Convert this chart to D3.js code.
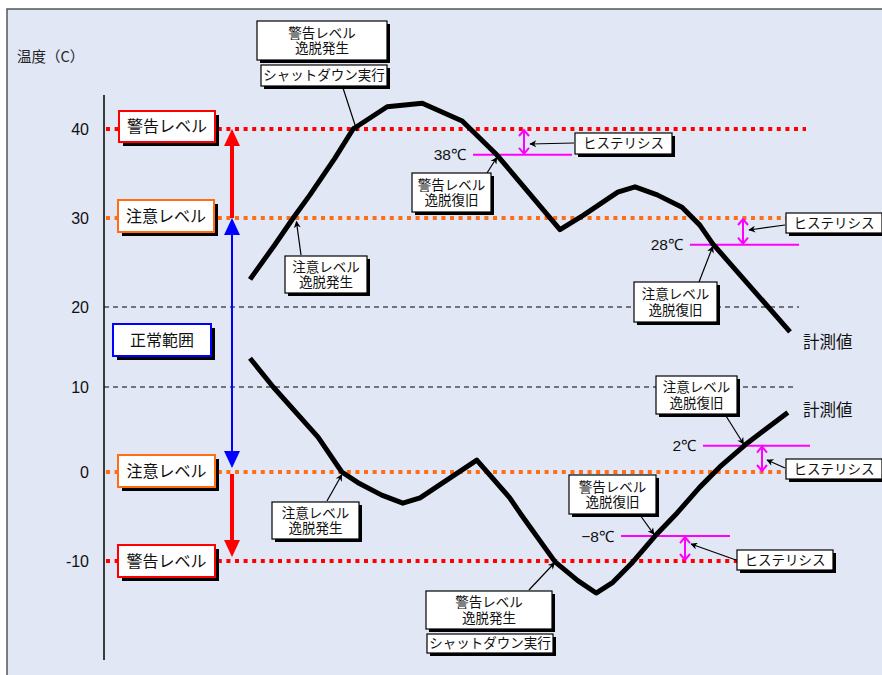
<!DOCTYPE html>
<html>
<head>
<meta charset="utf-8">
<script src="https://cdn.jsdelivr.net/npm/d3@7"></script>
<style>
  body { margin: 0; background: #fff; }
  svg text { font-family: "Noto Sans CJK JP", "Liberation Sans", sans-serif; }
</style>
</head>
<body>
<svg width="882" height="675"></svg>
<script>
// temperature axis
const tickValues = [40, 30, 20, 10, 0, -10];
const alarmLevels = [40, -10];
const cautionLevels = [30, 0];
const gridLevels = [20, 10];

// measured values (time 0..100, temperature C)
const upperTime = [0, 4.6, 8, 11.1, 15.7, 19.1, 25.4, 31.9, 39.3, 45.7, 57.4, 61.7, 68.1, 71.3, 75.4, 80, 83.3, 85.7, 88.3, 100];
const upperTemp = [23.1, 27, 30, 32.6, 36.7, 40, 42.5, 42.9, 40.9, 37.1, 28.7, 30.3, 32.9, 33.5, 32.6, 31.2, 29.2, 27.1, 25.3, 16.9];
const lowerTime = [0, 4.3, 12.6, 17, 20, 24.4, 28.3, 31.5, 42, 48.1, 50, 56.5, 60.7, 64.1, 67.2, 70.9, 75, 79.1, 83.3, 87, 91.7, 94.8, 99.6];
const lowerTemp = [13.6, 10, 4.1, 0, -1.2, -2.6, -3.5, -2.9, 1.4, -2.9, -4.6, -10.1, -12.2, -13.6, -12.4, -10.1, -7.2, -4.6, -1.7, 0.6, 3.2, 4.7, 7];

// hysteresis thresholds
const hysteresisTemps = [37.1, 27, 3.1, -7.2];
const hysteresisLabels = ['38℃', '28℃', '2℃', '−8℃'];
const hysteresisBase = [40, 30, 0, -10];

const svg = d3.select('svg');
const x = d3.scaleLinear().domain([0, 100]).range([250, 790]);
const y = d3.scaleLinear().domain([-10, 0, 10, 20, 30, 40]).range([561, 472, 387, 307, 218, 129]);

const RED = '#ff0000', ORANGE = '#ff6d14', BLUE = '#0000ff', MAG = '#ff00ff';

// panel
svg.append('rect').attr('x', 7).attr('y', 9).attr('width', 880).attr('height', 670)
  .attr('fill', '#e1e7f5').attr('stroke', '#555').attr('stroke-width', 1.5);

let defs = svg.append('defs');
defs.append('marker').attr('id', 'ah').attr('viewBox', '0 0 10 10').attr('refX', 9).attr('refY', 5)
  .attr('markerWidth', 9).attr('markerHeight', 7).attr('markerUnits', 'userSpaceOnUse').attr('orient', 'auto')
  .append('path').attr('d', 'M0,0L10,5L0,10L3,5Z').attr('fill', '#000');

svg.append('text').attr('x', 17).attr('y', 62).attr('font-size', 14.5).attr('fill', '#222').text('温度（C）');

// axis
svg.append('line').attr('x1', 104).attr('x2', 104).attr('y1', 95).attr('y2', 660)
  .attr('stroke', '#000').attr('stroke-width', 1.5);
let axis = svg.append('g').attr('transform', 'translate(104,0)')
  .call(d3.axisLeft(y).tickValues(tickValues).tickSize(0).tickPadding(15).tickFormat(d => String(d)));
axis.select('.domain').remove();
axis.selectAll('text').attr('font-size', 16).attr('fill', '#111')
  .style('font-family', '"Liberation Sans", Arial, sans-serif');

// level lines
svg.selectAll('.grid').data(gridLevels).join('line')
  .attr('x1', 104).attr('x2', d => d === 20 ? 799 : 794)
  .attr('y1', d => y(d)).attr('y2', d => y(d))
  .attr('stroke', '#000').attr('stroke-width', 1).attr('stroke-dasharray', '5,4');
svg.selectAll('.alarm').data(alarmLevels).join('line')
  .attr('x1', 106).attr('x2', 806).attr('y1', d => y(d)).attr('y2', d => y(d))
  .attr('stroke', RED).attr('stroke-width', 4).attr('stroke-dasharray', '4,4.6');
svg.selectAll('.caution').data(cautionLevels).join('line')
  .attr('x1', 106).attr('x2', 786).attr('y1', d => y(d)).attr('y2', d => y(d))
  .attr('stroke', ORANGE).attr('stroke-width', 4).attr('stroke-dasharray', '4,4.6');

function box(x0, y0, w, h, lines, opt) {
  opt = opt || {};
  let off = opt.shadow || 3;
  let g = svg.append('g');
  g.append('rect').attr('x', x0 + off).attr('y', y0 + off).attr('width', w).attr('height', h).attr('fill', '#000');
  g.append('rect').attr('x', x0).attr('y', y0).attr('width', w).attr('height', h)
    .attr('fill', '#fff').attr('stroke', opt.stroke || '#000').attr('stroke-width', opt.sw || 1.2);
  let fs = opt.fs || 13.5, lh = 15.5;
  let start = y0 + h / 2 - (lines.length - 1) * lh / 2;
  let t = g.append('text').attr('text-anchor', 'middle').attr('font-size', fs).attr('fill', '#111');
  lines.forEach((s, i) => {
    t.append('tspan').attr('x', x0 + w / 2).attr('y', start + i * lh).attr('dy', '0.36em').text(s);
  });
}

// level boxes
box(119, 111, 96, 31, ['警告レベル'], {stroke: RED, sw: 2, shadow: 4, fs: 16});
box(118, 200, 96, 32, ['注意レベル'], {stroke: ORANGE, sw: 2, shadow: 4, fs: 16});
box(113, 324, 98, 32, ['正常範囲'], {stroke: BLUE, sw: 2, shadow: 4, fs: 16});
box(118, 455, 97, 32, ['注意レベル'], {stroke: ORANGE, sw: 2, shadow: 4, fs: 16});
box(118, 545, 97, 32, ['警告レベル'], {stroke: RED, sw: 2, shadow: 4, fs: 16});

// range arrows
const ax = 232;
function tri(tipY, dir, color) {
  svg.append('path').attr('fill', color)
    .attr('d', `M${ax},${tipY}L${ax - 8},${tipY + dir * 17}L${ax + 8},${tipY + dir * 17}Z`);
}
svg.append('line').attr('x1', ax).attr('x2', ax).attr('y1', y(30)).attr('y2', y(40) + 10)
  .attr('stroke', RED).attr('stroke-width', 4);
tri(y(40), 1, RED);
svg.append('line').attr('x1', ax).attr('x2', ax).attr('y1', y(30) + 10).attr('y2', y(0) - 10)
  .attr('stroke', BLUE).attr('stroke-width', 2);
tri(y(30), 1, BLUE);
tri(y(0) - 4, -1, BLUE);
svg.append('line').attr('x1', ax).attr('x2', ax).attr('y1', y(0) + 2).attr('y2', y(-10) - 10)
  .attr('stroke', RED).attr('stroke-width', 4);
tri(y(-10) - 4, -1, RED);

// hysteresis
const hLayout = [
  {x1: 473, x2: 572, ax: 524, box: [575, 133, 97, 21], from: [574, 143], to: [530, 144]},
  {x1: 690, x2: 799, ax: 743, box: [786, 213, 96, 20], from: [785, 225], to: [749, 230]},
  {x1: 703, x2: 810, ax: 762, box: [786, 459, 96, 20], from: [785, 468], to: [767, 460]},
  {x1: 621, x2: 730, ax: 685, box: [737, 550, 96, 20], from: [736, 560], to: [691, 544]}
];
hysteresisTemps.forEach((v, i) => {
  let L = hLayout[i];
  let yy = y(v), yb = y(hysteresisBase[i]);
  svg.append('line').attr('x1', L.x1).attr('x2', L.x2).attr('y1', yy).attr('y2', yy)
    .attr('stroke', MAG).attr('stroke-width', 2);
  svg.append('text').attr('x', L.x1 - 7).attr('y', yy).attr('dy', '0.36em').attr('text-anchor', 'end')
    .attr('font-size', 15.5).attr('fill', '#111')
    .style('font-family', '"Liberation Sans", Arial, sans-serif').text(hysteresisLabels[i]);
  let top = Math.min(yy, yb), bot = Math.max(yy, yb);
  svg.append('path').attr('fill', 'none').attr('stroke', MAG).attr('stroke-width', 2)
    .attr('d', `M${L.ax},${top + 1}L${L.ax},${bot - 1}M${L.ax - 5},${top + 7}L${L.ax},${top + 1}L${L.ax + 5},${top + 7}` +
      `M${L.ax - 5},${bot - 7}L${L.ax},${bot - 1}L${L.ax + 5},${bot - 7}`);
});

// measured curves
let line = d3.line().x(d => x(d[0])).y(d => y(d[1]));
svg.append('path').datum(d3.zip(upperTime, upperTemp))
  .attr('fill', 'none').attr('stroke', '#000').attr('stroke-width', 5).attr('stroke-linejoin', 'round').attr('d', line);
svg.append('path').datum(d3.zip(lowerTime, lowerTemp))
  .attr('fill', 'none').attr('stroke', '#000').attr('stroke-width', 5).attr('stroke-linejoin', 'round').attr('d', line);

svg.append('text').attr('x', 803).attr('y', 342).attr('dy', '0.36em').attr('font-size', 16.5).attr('fill', '#111').text('計測値');
svg.append('text').attr('x', 803).attr('y', 410).attr('dy', '0.36em').attr('font-size', 16.5).attr('fill', '#111').text('計測値');

// hysteresis boxes and arrows
hLayout.forEach(L => {
  svg.append('line').attr('x1', L.from[0]).attr('y1', L.from[1]).attr('x2', L.to[0]).attr('y2', L.to[1])
    .attr('stroke', '#000').attr('stroke-width', 1.2).attr('marker-end', 'url(#ah)');
  box(L.box[0], L.box[1], L.box[2], L.box[3], ['ヒステリシス'], {fs: 13.5});
});

// event annotations: box, text, arrow start, arrow target on the curve (time, temp)
const notes = [
  {b: [257, 21, 130, 39], t: ['警告レベル', '逸脱発生']},
  {b: [261, 65, 126, 21], t: ['シャットダウン実行'], from: [343, 88], at: [19.8, 39.8]},
  {b: [412, 173, 79, 39], t: ['警告レベル', '逸脱復旧'], from: [487, 173], at: [45.7, 36.8]},
  {b: [285, 256, 82, 37], t: ['注意レベル', '逸脱発生'], from: [301, 255], at: [8.6, 29.6]},
  {b: [634, 282, 83, 40], t: ['注意レベル', '逸脱復旧'], from: [699, 282], at: [85.7, 26.8]},
  {b: [656, 376, 81, 38], t: ['注意レベル', '逸脱復旧'], from: [726, 416], at: [91.4, 3.3]},
  {b: [569, 475, 87, 39], t: ['警告レベル', '逸脱復旧'], from: [640, 515], at: [74.8, -7.0]},
  {b: [272, 502, 87, 37], t: ['注意レベル', '逸脱発生'], from: [327, 501], at: [17, -0.3]},
  {b: [426, 591, 126, 38], t: ['警告レベル', '逸脱発生'], from: [529, 590], at: [56.4, -10.2]},
  {b: [427, 634, 126, 19], t: ['シャットダウン実行']}
];
notes.forEach(n => {
  if (n.from) {
    svg.append('line').attr('x1', n.from[0]).attr('y1', n.from[1])
      .attr('x2', x(n.at[0])).attr('y2', y(n.at[1]))
      .attr('stroke', '#000').attr('stroke-width', 1.2).attr('marker-end', 'url(#ah)');
  }
  box(n.b[0], n.b[1], n.b[2], n.b[3], n.t, {fs: 13.5, shadow: 3});
});
</script>
</body>
</html>
